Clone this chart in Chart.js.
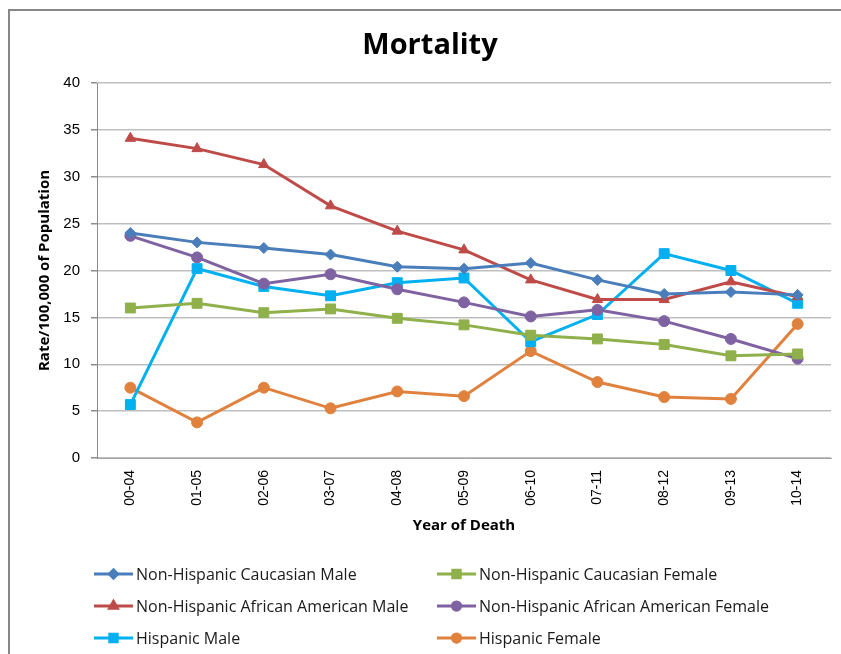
<!DOCTYPE html>
<html>
<head>
<meta charset="utf-8">
<title>Mortality</title>
<script src="https://cdn.jsdelivr.net/npm/chart.js@4.4.1/dist/chart.umd.min.js"></script>
<style>
  html, body { margin: 0; padding: 0; background: #fff; overflow: hidden; }
  #mortalityChart { display: block; }
</style>
</head>
<body>
<canvas id="mortalityChart" width="841" height="654"></canvas>
<script>
const periods = ["00-04", "01-05", "02-06", "03-07", "04-08", "05-09", "06-10", "07-11", "08-12", "09-13", "10-14"];

const caucasianMale = [24.0, 23.0, 22.4, 21.7, 20.4, 20.2, 20.8, 19.0, 17.5, 17.7, 17.4];
const caucasianFemale = [16.0, 16.5, 15.5, 15.9, 14.9, 14.2, 13.1, 12.7, 12.1, 10.9, 11.1];
const africanAmericanMale = [34.1, 33.0, 31.3, 26.9, 24.2, 22.2, 19.0, 16.9, 16.9, 18.8, 17.2];
const africanAmericanFemale = [23.7, 21.4, 18.6, 19.6, 18.0, 16.6, 15.1, 15.8, 14.6, 12.7, 10.6];
const hispanicMale = [5.7, 20.2, 18.3, 17.3, 18.7, 19.2, 12.4, 15.3, 21.8, 20.0, 16.5];
const hispanicFemale = [7.5, 3.8, 7.5, 5.3, 7.1, 6.6, 11.4, 8.1, 6.5, 6.3, 14.3];

function series(label, data, color, pointStyle, radius) {
  return {
    label: label,
    data: data,
    borderColor: color,
    backgroundColor: color,
    borderWidth: 3,
    pointStyle: pointStyle,
    pointRadius: radius,
    pointHoverRadius: radius,
    pointBorderWidth: 1,
    tension: 0
  };
}

// outer frame, title and a 2-column legend, like the Excel original
const excelLook = {
  id: "excelLook",
  beforeDraw(chart) {
    const ctx = chart.ctx;
    ctx.save();
    ctx.strokeStyle = "#878787";
    ctx.lineWidth = 2;
    ctx.strokeRect(9, 10, 900, 700);
    ctx.restore();
  },
  afterDraw(chart) {
    const ctx = chart.ctx;
    ctx.save();
    ctx.fillStyle = "#000";
    ctx.font = "bold 29px 'Open Sans'";
    ctx.textAlign = "center";
    ctx.textBaseline = "alphabetic";
    ctx.fillText("Mortality", 430, 54);

    const cols = [94, 437];
    const rows = [574, 606, 638];
    ctx.font = "16px 'Open Sans'";
    ctx.textAlign = "left";
    ctx.textBaseline = "middle";
    chart.data.datasets.forEach((ds, i) => {
      const x = cols[i % 2];
      const y = rows[Math.floor(i / 2)];
      ctx.strokeStyle = ds.borderColor;
      ctx.lineWidth = 3;
      ctx.beginPath();
      ctx.moveTo(x, y);
      ctx.lineTo(x + 39, y);
      ctx.stroke();
      ctx.fillStyle = ds.backgroundColor;
      Chart.helpers.drawPoint(ctx, {
        pointStyle: ds.pointStyle,
        radius: ds.pointRadius * 0.75,
        rotation: 0,
        borderWidth: 1
      }, x + 19.5, y);
      ctx.fillStyle = "#1a1a1a";
      ctx.fillText(ds.label, x + 42, y + 1);
    });
    ctx.restore();
  }
};

const ctx = document.getElementById("mortalityChart").getContext("2d");

new Chart(ctx, {
  type: "line",
  data: {
    labels: periods,
    datasets: [
      series("Non-Hispanic Caucasian Male", caucasianMale, "#4A7EBB", "rectRot", 5.5),
      series("Non-Hispanic Caucasian Female", caucasianFemale, "#8FB04A", "rect", 7),
      series("Non-Hispanic African American Male", africanAmericanMale, "#BE4B48", "triangle", 6),
      series("Non-Hispanic African American Female", africanAmericanFemale, "#7F62A1", "circle", 5.5),
      series("Hispanic Male", hispanicMale, "#00B0F0", "rect", 7),
      series("Hispanic Female", hispanicFemale, "#E0823D", "circle", 5.5)
    ]
  },
  options: {
    responsive: false,
    animation: false,
    layout: { padding: { left: 0, top: 83, right: 10, bottom: 119 } },
    plugins: {
      legend: { display: false },
      title: { display: false },
      tooltip: { enabled: false }
    },
    scales: {
      x: {
        offset: true,
        afterFit: s => { s.height = 77; },
        grid: { display: false, drawTicks: false },
        border: { display: true, color: "#a6a6a6", width: 1 },
        ticks: {
          minRotation: 90,
          maxRotation: 90,
          padding: 12,
          color: "#000",
          font: { family: "'Liberation Sans'", size: 14 }
        },
        title: {
          display: true,
          text: "Year of Death",
          color: "#000",
          font: { family: "'Open Sans'", size: 15, weight: "bold" },
          padding: { top: 0, bottom: 0 }
        }
      },
      y: {
        min: 0,
        max: 40,
        afterFit: s => { s.width = 97; },
        ticks: {
          stepSize: 5,
          padding: 11,
          color: "#000",
          font: { family: "'Liberation Sans'", size: 15 }
        },
        grid: { color: "#bfbfbf", lineWidth: 1.5, tickLength: 6, tickColor: "#8c8c8c" },
        border: { display: true, color: "#8c8c8c", width: 1 },
        title: {
          display: true,
          text: "Rate/100,000 of Population",
          color: "#000",
          font: { family: "'Open Sans'", size: 15, weight: "bold" },
          padding: { top: 36, bottom: 0 }
        }
      }
    }
  },
  plugins: [excelLook]
});
</script>
</body>
</html>
